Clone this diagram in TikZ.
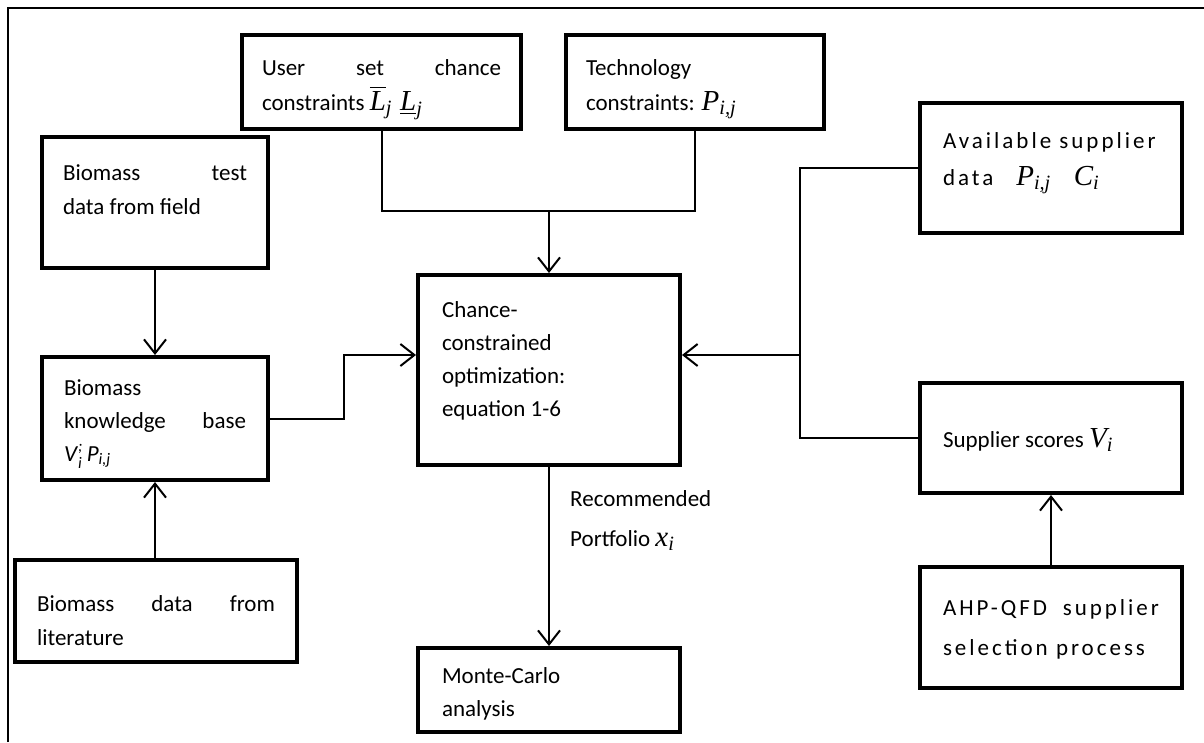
\RequirePackage{fix-cm}
\documentclass[tikz,border=0pt]{standalone}
\usepackage{amsmath}
\usepackage{fontspec}
\setmainfont{Carlito}
\newfontfamily\cambria{Liberation Serif}
\usetikzlibrary{arrows.meta}
\newcommand{\boxtext}[5]{\parbox[c][#1][t]{#2}{\fontsize{23}{#4}\selectfont\raggedright\rule{0pt}{#3}#5}}
\newcommand{\wide}{\addfontfeatures{LetterSpace=13}}
\newcommand{\cv}[1]{\text{\cambria\itshape #1}}
\newcommand{\mth}[1]{{\fontsize{29}{30}\selectfont$#1$}}
\tikzset{
  flowbox/.style={draw, line width=4pt, inner xsep=#1, inner ysep=0pt, anchor=north west},
  conn/.style={line width=2pt},
  arr/.style={conn, -{Straight Barb[length=14pt,width=22pt]}},
  frame/.style={line width=1.5pt}
}
\begin{document}
\begin{tikzpicture}[x=1pt,y=-1pt]
\useasboundingbox (0,0) rectangle (1204,742);
\draw[frame] (8,742) -- (8,8) -- (1204,8);

\node[flowbox=20pt] (user) at (240,33) {\boxtext{94pt}{239pt}{40pt}{35pt}{User\hfill set\hfill chance\\constraints \mth{\overline{\cv{L}}_{\cv{j}}\;\underline{\cv{L}}_{\cv{j}}}}};
\node[flowbox=20pt] (tech) at (564,33) {\boxtext{94pt}{218pt}{40pt}{35pt}{Technology\\constraints: \mth{\cv{P}_{\cv{i,j}}}}};
\node[flowbox=21pt] (biotest) at (40,135) {\boxtext{131pt}{184pt}{43pt}{34pt}{Biomass\hfill test\\data from field}};
\node[flowbox=22pt] (kb) at (40,355) {\boxtext{123pt}{182pt}{38pt}{33pt}{Biomass\\knowledge\hfill base\\\textit{V}$_{\textit{i}}^{\textit{;}}$\,\textit{P}$_{\textit{i,j}}$}};
\node[flowbox=22pt] (lit) at (13,558) {\boxtext{102pt}{238pt}{51pt}{34pt}{Biomass\hfill data\hfill from\\literature}};
\node[flowbox=24pt] (chance) at (416,273) {\boxtext{190pt}{214pt}{42pt}{33pt}{Chance-\\constrained\\optimization:\\equation 1-6}};
\node[flowbox=24pt] (monte) at (416,646) {\boxtext{84pt}{214pt}{35pt}{33pt}{Monte-Carlo\\analysis}};
\node[flowbox=23pt] (avail) at (918,101) {\boxtext{130pt}{216pt}{45pt}{37pt}{\wide Available supplier\\data\quad\mth{\cv{P}_{\cv{i,j}}}\quad\mth{\cv{C}_{\cv{i}}}}};
\node[flowbox=23pt] (scores) at (918,381) {\boxtext{110pt}{216pt}{64pt}{34pt}{Supplier scores \mth{\cv{V}_{\cv{i}}}}};
\node[flowbox=23pt] (ahp) at (918,565) {\boxtext{121pt}{216pt}{48pt}{40pt}{\wide AHP-QFD\hfill supplier\\selection process}};
\node[anchor=north west, inner sep=0pt, align=left, font=\fontsize{23}{40}\selectfont] (rec) at (570,490) {Recommended\\Portfolio \mth{\cv{x}_{\cv{i}}}};

\coordinate (y211) at (0,211);
\coordinate (jm) at (chance.north |- y211);
\draw[conn] (user.south) |- (jm) -| (tech.south);
\draw[arr] (jm) -- (chance.north);
\draw[arr] (biotest) -- (kb);
\draw[arr] (kb.south |- lit.north) -- (kb.south);
\coordinate (lk) at (344,355);
\draw[arr] (kb.east) -| (lk) -- (lk -| chance.west);
\coordinate (rk) at (800,355);
\draw[conn] (avail.west) -| (rk) |- (scores.west);
\draw[arr] (rk) -- (rk -| chance.east);
\draw[arr] (chance) -- (monte);
\draw[arr] (ahp) -- (scores);
\end{tikzpicture}
\end{document}
